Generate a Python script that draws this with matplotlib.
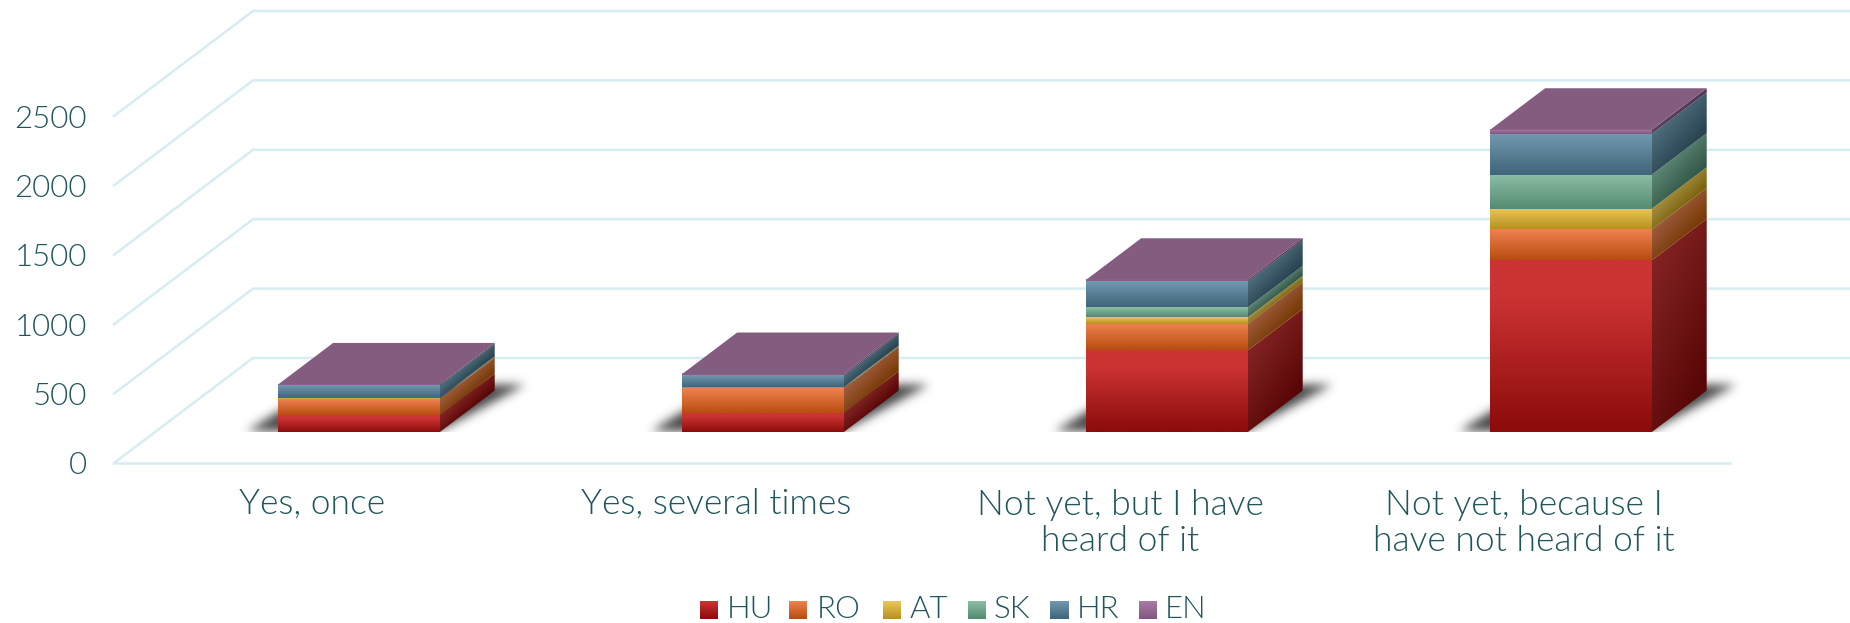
import numpy as np
import matplotlib
matplotlib.use('Agg')
import matplotlib.pyplot as plt
from matplotlib.patches import Polygon
from matplotlib.path import Path

plt.rcParams['font.family'] = ['Lato', 'DejaVu Sans']

# data
categories = ['Yes, once', 'Yes, several times', 'Not yet, but I have\nheard of it',
              'Not yet, because I\nhave not heard of it']
countries = ['HU', 'RO', 'AT', 'SK', 'HR', 'EN']
HU = [122, 139, 588, 1237]
RO = [115, 175, 192, 223]
AT = [5, 5, 46, 149]
SK = [5, 5, 72, 245]
HR = [89, 84, 187, 295]
EN = [7, 10, 12, 29]
yticks = [0, 500, 1000, 1500, 2000, 2500]

# colours: (top, bottom) of each front face and of each side face
front_cols = ['#CC3333', '#EF8250', '#EAC65C', '#8ABEA6', '#7098AF', '#A97BA8']
front_dark = ['#8C0B0B', '#B84D10', '#B8911C', '#558B71', '#41657A', '#80577E']
side_cols = ['#822222', '#9C5A3A', '#A38C3E', '#5C8472', '#4C6B7B', '#5F4560']
side_dark = ['#580606', '#783A06', '#7C640E', '#325847', '#294350', '#4A3049']
top_col = '#845C7F'
text_col = '#1F565B'
grid_col = '#D6EDF1'

W, H = 1850, 623
px_per_cat = 404.0
px_per_val = 0.1388
x0_px, y0_px = 114.0, 463.0
depth_x = 139 / px_per_cat
depth_y = 105 / px_per_val
bar_w = 0.4
d_front, d_back = 0.295, 0.69
bar_shift = 2.0 / px_per_cat
tick_size = 22.5
cat_size = 25.5
leg_size = 22.5
light = 320

fig = plt.figure(figsize=(W / 100, H / 100), dpi=100, facecolor='white')
ax = fig.add_axes([0, 0, 1, 1])


def proj(cat, val, d=0.0):
    return cat + d * depth_x, val + d * depth_y


def px_x(px):
    return (px - x0_px) / px_per_cat


def px_y(px):
    return (y0_px - px) / px_per_val


def hex_rgb(c):
    return np.array(matplotlib.colors.to_rgb(c))


def shade(t, c1, c2):
    t = np.clip(t, 0, 1)[..., None]
    return hex_rgb(c1) * (1 - t) + hex_rgb(c2) * t


def front_face(l, r, b, t, c1, c2, hold=0.2):
    s = np.linspace(0, 1, 64)[:, None]
    img = shade((s.repeat(2, axis=1) - hold) / (1 - hold), c1, c2)
    ax.imshow(img, extent=(l, r, b, t), aspect='auto', origin='upper', zorder=5,
              interpolation='bilinear')


def side_face(x, b, t, c1, c2):
    xa, ya = proj(x, b, d_front)
    xb, yb = proj(x, t, d_front)
    xc, yc = proj(x, t, d_back)
    xd, yd = proj(x, b, d_back)
    poly = Polygon([(xa, ya), (xb, yb), (xc, yc), (xd, yd)], closed=True,
                   transform=ax.transData, fc='none', ec='none')
    ax.add_patch(poly)
    u, v = np.meshgrid(np.linspace(0, 1, 60), np.linspace(1, 0, 200))
    ys = ya + v * (yc - ya)
    s = (yb + u * (yc - yb) - ys) / max(t - b, 1)
    img = shade(0.75 * s + 0.35 * u - 0.05, c1, c2)
    im = ax.imshow(img, extent=(xa, xc, ya, yc), aspect='auto', origin='upper', zorder=4,
                   interpolation='bilinear')
    im.set_clip_path(poly)


def shadow(l, r):
    # soft shadow on the floor, blurred by hand since scipy is not around
    y_f = proj(0, 0, d_front)[1]
    y_b = proj(0, 0, d_back)[1]
    xl = l + depth_x * d_front
    xr = r + depth_x * d_front
    bx = depth_x * (d_back - d_front)
    pts = [(xl - 32 / px_per_cat, y_f), (xr - 2 / px_per_cat, y_f),
           (xr + bx + 30 / px_per_cat, y_b + 6 / px_per_val),
           (xl + bx, y_b + 6 / px_per_val), (xl, y_f + 20 / px_per_val)]
    gx = np.arange(xl - 60 / px_per_cat, xr + bx + 70 / px_per_cat, 1 / px_per_cat)
    gy = np.arange(y_f, y_b + 40 / px_per_val, 1 / px_per_val)
    X, Y = np.meshgrid(gx, gy)
    # work in pixel-like units so the hit test is not squashed
    path = Path([(p[0] * px_per_cat, p[1] * px_per_val) for p in pts] + [(0, 0)], closed=True)
    inside = path.contains_points(np.c_[X.ravel() * px_per_cat, Y.ravel() * px_per_val])
    mask = inside.reshape(X.shape).astype(float)
    kern = np.exp(-0.5 * (np.arange(-14, 15) / 5.0) ** 2)
    kern /= kern.sum()
    pad = np.pad(mask, ((14, 14), (14, 14)), mode='constant')
    pad[:14, :] = pad[14, :]
    blur = np.apply_along_axis(lambda a: np.convolve(a, kern, mode='same'), 0, pad)
    blur = np.apply_along_axis(lambda a: np.convolve(a, kern, mode='same'), 1, blur)
    blur = blur[14:-14, 14:-14]
    img = np.zeros(X.shape + (4,))
    img[..., :3] = hex_rgb('#444444')
    img[..., 3] = np.clip(blur * 1.1, 0, 1) * 0.9
    ax.imshow(img, extent=(gx[0], gx[-1], gy[0], gy[-1]), aspect='auto', origin='lower',
              zorder=3, interpolation='bilinear')


# grid: diagonal on the side wall, back wall, front floor edge
for v in yticks:
    xa, ya = proj(0, v, 0)
    xb, yb = proj(0, v, 1)
    xc, yc = proj(5, v, 1)
    if v == 0:
        ax.plot([xa, proj(4, 0, 0)[0]], [ya, ya], color=grid_col, lw=1.8, zorder=1)
    ax.plot([xa, xb, xc], [ya, yb, yc], color=grid_col, lw=1.8, zorder=1,
            solid_joinstyle='miter')
    ax.text(px_x(87), v - 3 / px_per_val, str(v), ha='right', va='center', fontsize=tick_size,
            color=text_col, fontweight=light)

# bars
series = [HU, RO, AT, SK, HR, EN]
for i, cat in enumerate(categories):
    left = i + 0.5 - bar_w / 2 + bar_shift
    right = left + bar_w
    shadow(left, right)
    base = 0
    for j, s in enumerate(series):
        top = base + s[i]
        xl = proj(left, 0, d_front)[0]
        xr = proj(right, 0, d_front)[0]
        yb = proj(0, base, d_front)[1]
        yt = proj(0, top, d_front)[1]
        front_face(xl, xr, yb, yt, front_cols[j], front_dark[j], 0.2 if j == 0 else 0)
        side_face(right, base, top, side_cols[j], side_dark[j])
        base = top
    corners = [proj(left, base, d_front), proj(right, base, d_front),
               proj(right, base, d_back), proj(left, base, d_back)]
    ax.add_patch(Polygon(corners, closed=True, fc=top_col, ec='none', zorder=6))
    label_y = 523 if '\n' in cat else 504
    ax.text(i + 0.49, px_y(label_y), cat, ha='center', va='center',
            fontsize=cat_size, color=text_col, linespacing=1.17, fontweight=light)

# legend
sq_left = [700, 789, 883, 968, 1050, 1139]
txt_left = [726.5, 817, 910, 994, 1077, 1165]
for name, sx, tx, c1, c2 in zip(countries, sq_left, txt_left, front_cols, front_dark):
    s = np.linspace(0, 1, 32)[:, None].repeat(2, axis=1)
    ax.imshow(shade(s, c1, c2), extent=(px_x(sx), px_x(sx + 18), px_y(619), px_y(601)),
              aspect='auto', origin='upper', zorder=5)
    ax.text(px_x(tx), px_y(609), name, ha='left', va='center',
            fontsize=leg_size, color=text_col, fontweight=light)

ax.set_xlim(px_x(0), px_x(W))
ax.set_ylim(px_y(H), px_y(0))
ax.axis('off')

fig.savefig('out.png', dpi=100, facecolor='white')
